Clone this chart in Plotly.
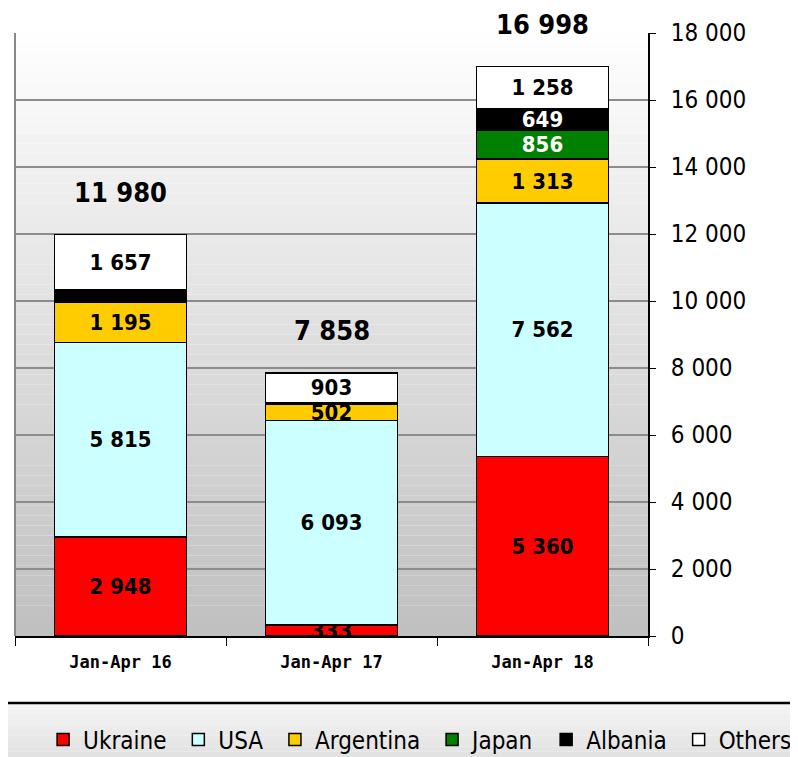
import plotly.graph_objects as go

periods = ["Jan-Apr 16", "Jan-Apr 17", "Jan-Apr 18"]
ukraine = [2948, 333, 5360]
usa = [5815, 6093, 7562]
argentina = [1195, 502, 1313]
japan = [0, 0, 856]
albania = [365, 27, 649]
others = [1657, 903, 1258]
totals = [11980, 7858, 16998]

FONT = "DejaVu Sans Condensed, DejaVu Sans, sans-serif"

series = [
    ("Ukraine", ukraine, "#FF0000", "black"),
    ("USA", usa, "#CCFFFF", "black"),
    ("Argentina", argentina, "#FFCC00", "black"),
    ("Japan", japan, "#008000", "white"),
    ("Albania", albania, "#000000", "white"),
    ("Others", others, "#FFFFFF", "black"),
]
# segments drawn without a label in the source chart
unlabelled = {("Albania", 0)}


def fmt(v):
    return f"{v:,}".replace(",", " ")


fig = go.Figure()
for name, vals, color, tcol in series:
    labels = [
        "" if (v < 100 or (name, i) in unlabelled) else "<b>" + fmt(v) + "</b>"
        for i, v in enumerate(vals)
    ]
    fig.add_trace(go.Bar(
        x=periods, y=vals, name=name + "&nbsp;", text=labels,
        textposition="inside", insidetextanchor="middle", textangle=0,
        insidetextfont=dict(family=FONT, size=22, color=tcol),
        marker=dict(color=color, line=dict(color="black", width=1.5)),
        cliponaxis=False,
    ))

for p, t in zip(periods, totals):
    fig.add_annotation(x=p, y=t, text="<b>" + fmt(t) + "</b>", showarrow=False,
                       yshift=42, font=dict(family=FONT, size=27, color="black"))

# gradient plot background
n = 60
for i in range(n):
    g = int(255 - (255 - 192) * (1 - (i + 0.5) / n))
    fig.add_shape(type="rect", xref="x domain", yref="y domain",
                  x0=0, x1=1, y0=i / n, y1=(i + 1) / n, layer="below",
                  line=dict(width=0), fillcolor=f"rgb({g},{g},{g})")
fig.add_shape(type="line", xref="x domain", yref="y domain", x0=0, x1=0,
              y0=0, y1=1, line=dict(color="#888888", width=2), layer="below")
# legend band
for i in range(10):
    g = int(245 - 20 * (i + 0.5) / 10)
    y0 = -0.111 - 0.09 * i / 10
    fig.add_shape(type="rect", xref="paper", yref="paper", x0=-0.1, x1=1.3,
                  y0=y0 - 0.009, y1=y0, line=dict(width=0),
                  fillcolor=f"rgb({g},{g},{g})", layer="below")
fig.add_shape(type="line", xref="paper", yref="paper", x0=-0.1, x1=1.3,
              y0=-0.111, y1=-0.111, line=dict(color="black", width=2.5))

fig.update_layout(
    barmode="stack", bargap=0.375,
    width=790, height=749,
    margin=dict(l=7, r=150, t=25, b=121, autoexpand=False),
    paper_bgcolor="white", plot_bgcolor="rgba(0,0,0,0)",
    separators=". ",
    uniformtext=dict(mode="show", minsize=22),
    font=dict(family=FONT, color="black"),
    showlegend=True,
    legend=dict(orientation="h", x=1.245, xanchor="right", y=-0.1725, yanchor="middle",
                font=dict(family=FONT, size=24), bgcolor="rgba(0,0,0,0)",
                traceorder="normal", itemwidth=30, tracegroupgap=0),
)
fig.update_xaxes(
    showline=True, linecolor="black", linewidth=2, automargin=False,
    ticks="outside", tickson="boundaries", ticklen=8, tickcolor="black",
    tickfont=dict(family="DejaVu Sans Mono, monospace", size=17, color="black"),
    tickvals=periods, ticktext=["<b>" + p + "</b>" for p in periods],
    ticklabelstandoff=10,
)
fig.update_yaxes(
    side="right", range=[0, 18000], dtick=2000, tickformat=",d", automargin=False,
    showline=True, linecolor="black", linewidth=2,
    ticks="outside", ticklen=6, tickcolor="black",
    showgrid=True, gridcolor="#8C8C8C", gridwidth=1.5,
    tickfont=dict(family=FONT, size=24, color="black"),
    ticklabelstandoff=10,
    zeroline=False,
)

fig.write_html("out.html")
